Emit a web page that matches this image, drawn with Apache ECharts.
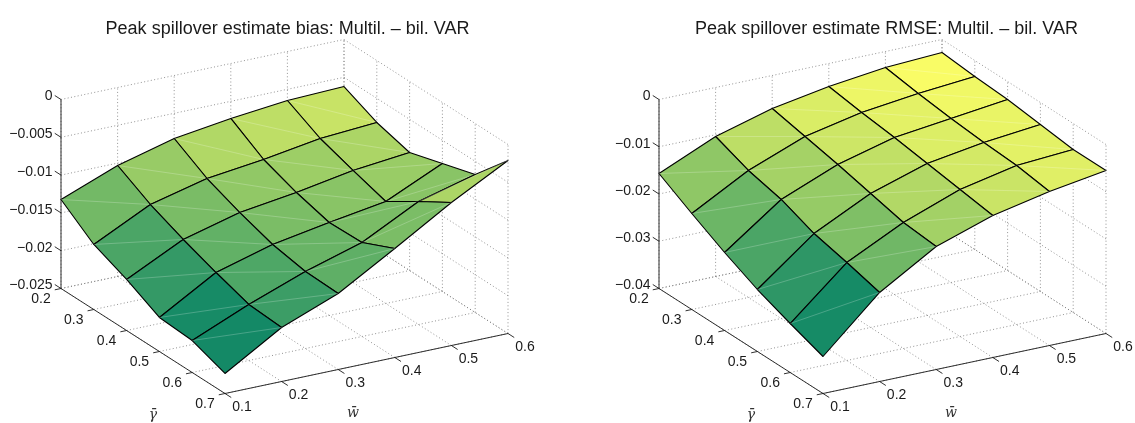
<!DOCTYPE html>
<html><head><meta charset="utf-8">
<style>html,body{margin:0;padding:0;background:#fff}#c{width:1135px;height:423px}</style>
<script src="https://cdn.jsdelivr.net/npm/echarts@6/dist/echarts.min.js"></script>
</head><body><div id="c"></div>
<script>
const wTicks = [0.1,0.2,0.3,0.4,0.5,0.6];
const gammaTicks = [0.2,0.3,0.4,0.5,0.6,0.7];
const biasZTicks = [0,-0.005,-0.01,-0.015,-0.02,-0.025];
const rmseZTicks = [0,-0.01,-0.02,-0.03,-0.04];
const biasZTickLabels = ['0','−0.005','−0.01','−0.015','−0.02','−0.025'];
const rmseZTickLabels = ['0','−0.01','−0.02','−0.03','−0.04'];
const titles = ['Peak spillover estimate bias: Multil. – bil. VAR','Peak spillover estimate RMSE: Multil. – bil. VAR'];
const wName = 'w̄', gammaName = 'γ̄';
// rows by gamma (0.2 ... 0.7), columns by w (0.1 ... 0.6)
const biasG02 = [-.01323,-.01032,-.00833,-.00727,-.00648,-.00622];
const biasG03 = [-.01640,-.01270,-.01085,-.00992,-.00873,-.00820];
const biasG04 = [-.01825,-.01455,-.01257,-.01151,-.01018,-.00939];
const biasG05 = [-.02050,-.01614,-.01402,-.01270,-.01151,-.00807];
const biasG06 = [-.02077,-.01759,-.01481,-.01257,-.00873,-.00675];
const biasG07 = [-.02235,-.01786,-.01495,-.01058,-.00608,-.00211];
const rmseG02 = [-.01566,-.01037,-.00698,-.00487,-.00339,-.00275];
const rmseG03 = [-.01968,-.01312,-.00847,-.00593,-.00444,-.00339];
const rmseG04 = [-.02349,-.01481,-.00995,-.00677,-.00529,-.00381];
const rmseG05 = [-.02688,-.01757,-.01164,-.00783,-.00593,-.00466];
const rmseG06 = [-.02963,-.01926,-.01333,-.00889,-.00635,-.00550];
const rmseG07 = [-.03217,-.02116,-.01397,-.00995,-.00741,-.00550];

const biasZ = [biasG02,biasG03,biasG04,biasG05,biasG06,biasG07];
const rmseZ = [rmseG02,rmseG03,rmseG04,rmseG05,rmseG06,rmseG07];

const W0=wTicks[0],W1=wTicks[5],G0=gammaTicks[0],G1=gammaTicks[5];
const VIEW_W=537, VIEW_H=423;
function projector(zLo,zHi){
  return function(w,g,z){
    const a=(w-W0)/(W1-W0), b=(g-G0)/(G1-G0), c=(z-zLo)/(zHi-zLo);
    return [61+283*a+164*b, 288.5-60*a+105*b-189*c];
  };
}
function summer(t){
  t=Math.max(0,Math.min(1,t));
  return 'rgb('+Math.round(255*t)+','+Math.round(255*(0.5+0.5*t))+','+Math.round(255*0.4)+')';
}
function panel(idx,Z,zTicks,zLabels){
  const zLo=Math.min(...zTicks), zHi=Math.max(...zTicks);
  const P=projector(zLo,zHi);
  const grid={left:idx*598,top:0,width:VIEW_W,height:VIEW_H,outerBoundsMode:'none',containLabel:false};
  const axisCommon={type:'value',show:false,gridIndex:idx};
  const x={...axisCommon,min:0,max:VIEW_W}, y={...axisCommon,min:0,max:VIEW_H,inverse:true};

  // dotted box grid
  const dots=[];
  zTicks.forEach(z=>{dots.push([W0,G0,z,W1,G0,z]);dots.push([W1,G0,z,W1,G1,z]);});
  wTicks.forEach(w=>{dots.push([w,G0,zLo,w,G1,zLo]);dots.push([w,G0,zLo,w,G0,zHi]);});
  gammaTicks.forEach(g=>{dots.push([W0,g,zLo,W1,g,zLo]);dots.push([W1,g,zLo,W1,g,zHi]);});
  // solid axes
  const solid=[[W0,G0,zLo,W0,G0,zHi],[W0,G0,zLo,W0,G1,zLo],[W0,G1,zLo,W1,G1,zLo]];
  const dw=(W1-W0)*0.022, dg=(G1-G0)*0.038;
  wTicks.forEach(w=>solid.push([w,G1,zLo,w,G1+dg,zLo]));
  gammaTicks.forEach(g=>solid.push([W0,g,zLo,W0-dw,g,zLo]));
  zTicks.forEach(z=>solid.push([W0,G0,z,W0,G0-dg,z]));

  function seg(style){
    return function(p,api){
      const a=api.coord(P(api.value(0),api.value(1),api.value(2)));
      const b=api.coord(P(api.value(3),api.value(4),api.value(5)));
      return {type:'line',shape:{x1:a[0],y1:a[1],x2:b[0],y2:b[1]},style,silent:true};
    };
  }
  const enc={x:0,y:1};
  const series=[];
  const base={type:'custom',xAxisIndex:idx,yAxisIndex:idx,coordinateSystem:'cartesian2d',silent:true,clip:false,encode:enc};
  series.push({...base,name:'grid'+idx,z:1,data:dots,
    renderItem:seg({stroke:'#777',lineWidth:0.8,lineDash:[1,2.4],fill:null})});
  series.push({...base,name:'axes'+idx,z:2,data:solid,
    renderItem:seg({stroke:'#1a1a1a',lineWidth:0.9,fill:null})});

  // surface cells: back to front
  const cells=[];
  for(let j=0;j<5;j++)for(let i=0;i<5;i++)cells.push([i,j]);
  cells.sort((p,q)=>(p[1]-p[0])-(q[1]-q[0]));
  const flat=Z.flat(), zMin=Math.min(...flat), zMax=Math.max(...flat);
  series.push({...base,name:'surface'+idx,z:3,data:cells,renderItem(p,api){
      const i=api.value(0), j=api.value(1);
      const v=(a,b)=>api.coord(P(wTicks[a],gammaTicks[b],Z[b][a]));
      const A=v(i,j),B=v(i+1,j),C=v(i+1,j+1),D=v(i,j+1);
      const fill=summer((Z[j][i]-zMin)/(zMax-zMin));
      return {type:'group',children:[
        {type:'polygon',shape:{points:[A,B,C,D]},style:{fill,stroke:'#000',lineWidth:1.1,lineJoin:'round'}},
        {type:'line',shape:{x1:A[0],y1:A[1],x2:C[0],y2:C[1]},style:{stroke:'rgba(255,255,255,0.28)',lineWidth:0.8,fill:null}}
      ]};
    }});

  // text labels
  const font='"Liberation Sans",Arial,sans-serif';
  const tickFont='14px '+font;
  const txt=[];
  gammaTicks.forEach(g=>txt.push({p:P(W0,g,zLo),dx:-20,dy:10.5,t:g.toFixed(1),align:'center',f:tickFont,c:'#1a1a1a'}));
  wTicks.forEach(w=>txt.push({p:P(w,G1,zLo),dx:17,dy:14,t:w.toFixed(1),align:'center',f:tickFont,c:'#1a1a1a'}));
  zTicks.forEach((z,k)=>txt.push({p:P(W0,G0,z),dx:-8.5,dy:-3,t:zLabels[k],align:'right',f:tickFont,c:'#1a1a1a'}));
  const nameFont='italic 14px "DejaVu Serif",serif';
  txt.push({p:P(W0,G1,zLo),dx:128,dy:20,t:wName,align:'center',f:nameFont,c:'#333'});
  txt.push({p:P(W0,G1,zLo),dx:-72,dy:22,t:gammaName,align:'center',f:nameFont,c:'#333'});
  series.push({...base,name:'labels'+idx,z:4,data:txt.map((d,k)=>[d.p[0],d.p[1],k]),renderItem(p,api){
      const d=txt[api.value(2)];
      const c=api.coord([d.p[0],d.p[1]]);
      return {type:'text',x:c[0]+d.dx,y:c[1]+d.dy,style:{text:d.t,fill:d.c,font:d.f,align:d.align,verticalAlign:'middle'}};
    }});
  return {grid,x,y,series,title:{text:titles[idx],left:282.5+idx*599,top:15,textAlign:'center',textStyle:{fontFamily:font,fontSize:18,fontWeight:'normal',color:'#1a1a1a'}}};
}
const L=panel(0,biasZ,biasZTicks,biasZTickLabels), R=panel(1,rmseZ,rmseZTicks,rmseZTickLabels);
const chart=echarts.init(document.getElementById('c'),null,{renderer:'canvas'});
chart.setOption({animation:false,backgroundColor:'#fff',
  title:[L.title,R.title],grid:[L.grid,R.grid],xAxis:[L.x,R.x],yAxis:[L.y,R.y],series:[...L.series,...R.series]});
</script></body></html>
